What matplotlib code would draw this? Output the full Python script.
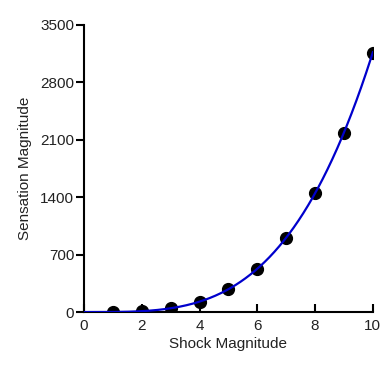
import numpy as np
import matplotlib.pyplot as plt

plt.rcParams['font.family'] = ['Liberation Sans', 'DejaVu Sans']

# 刺激强度与感觉强度
shock = [1, 2, 3, 4, 5, 6, 7, 8, 9, 10]
sensation = [1, 11, 47, 128, 280, 529, 907, 1448, 2187, 3162]

# 幂函数拟合 (对数坐标下线性拟合)
b, loga = np.polyfit(np.log(shock), np.log(sensation), 1)
xs = np.linspace(0, 10, 300)
ys = np.exp(loga) * xs ** b

fig = plt.figure(figsize=(3.84, 3.76), dpi=100)
ax = fig.add_axes([0.219, 0.170, 0.752, 0.764])

ax.plot(shock, sensation, 'o', color='black', markersize=8.5, zorder=2)
ax.plot(xs, ys, color='#0000cc', linewidth=1.6, zorder=3)

ax.set_xlim(0, 10)
ax.set_ylim(0, 3500)
ax.set_xticks([0, 2, 4, 6, 8, 10])
ax.set_yticks([0, 700, 1400, 2100, 2800, 3500])

for s in ['top', 'right']:
    ax.spines[s].set_visible(False)
for s in ['left', 'bottom']:
    ax.spines[s].set_linewidth(1.5)

ax.tick_params(axis='x', direction='in', length=6, width=1.5, labelsize=11, pad=5, colors='black')
ax.tick_params(axis='y', direction='out', length=6, width=1.5, labelsize=11, pad=1, colors='black')
for lab in ax.get_xticklabels() + ax.get_yticklabels():
    lab.set_color('#222222')

ax.set_xlabel('Shock Magnitude', fontsize=11, labelpad=3, color='#222222')
ax.set_ylabel('Sensation Magnitude', fontsize=11, labelpad=6, color='#222222')

fig.savefig('out.png', dpi=100)
